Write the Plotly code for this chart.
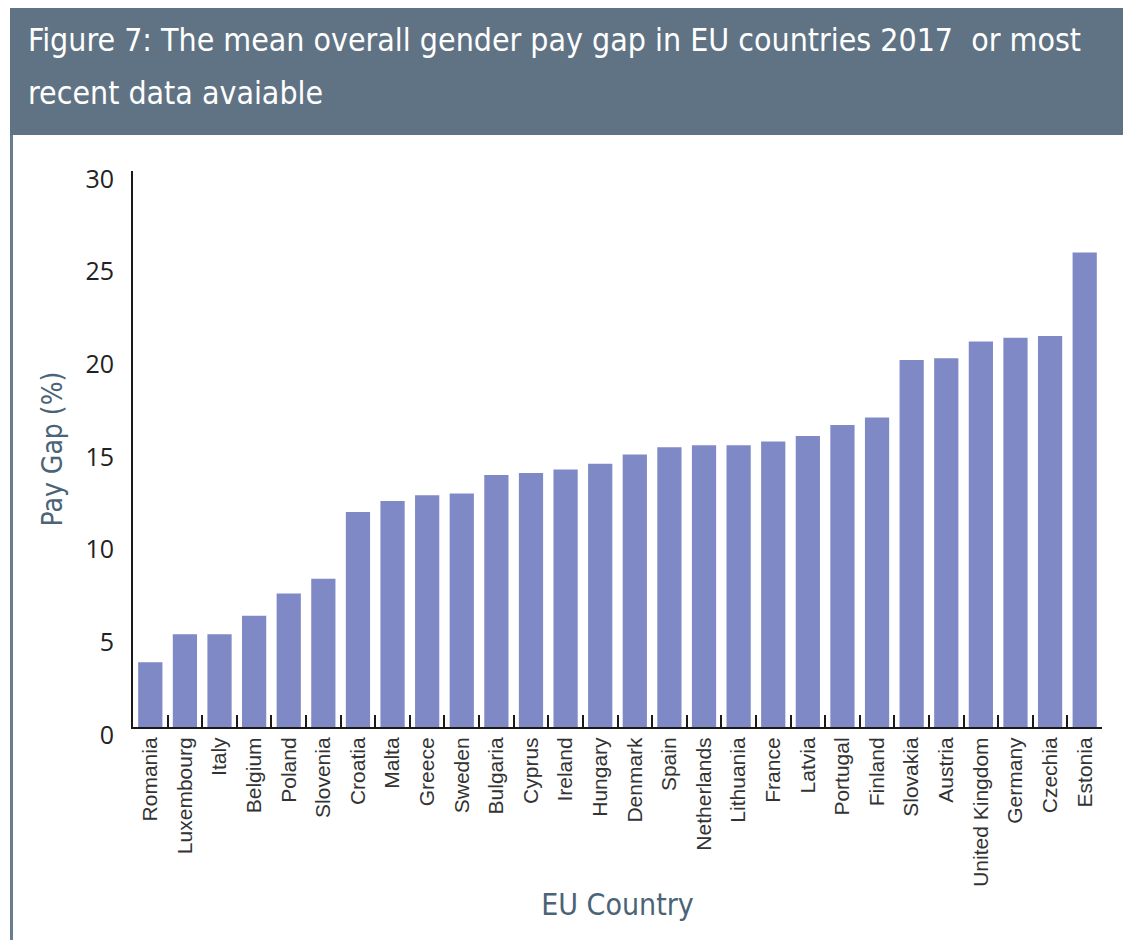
import plotly.graph_objects as go

countries = ["Romania", "Luxembourg", "Italy", "Belgium", "Poland", "Slovenia", "Croatia",
             "Malta", "Greece", "Sweden", "Bulgaria", "Cyprus", "Ireland", "Hungary",
             "Denmark", "Spain", "Netherlands", "Lithuania", "France", "Latvia", "Portugal",
             "Finland", "Slovakia", "Austria", "United Kingdom", "Germany", "Czechia", "Estonia"]
pay_gap = [3.5, 5.0, 5.0, 6.0, 7.2, 8.0, 11.6,
           12.2, 12.5, 12.6, 13.6, 13.7, 13.9, 14.2,
           14.7, 15.1, 15.2, 15.2, 15.4, 15.7, 16.3,
           16.7, 19.8, 19.9, 20.8, 21.0, 21.1, 25.6]
y_ticks = [0, 5, 10, 15, 20, 25, 30]

title_line1 = "Figure 7: The mean overall gender pay gap in EU countries 2017  or most"
title_line2 = "recent data avaiable"
slate = "#5f7384"
cond_font = "Liberation Sans Narrow, DejaVu Sans Condensed, sans-serif"

W, H = 1123, 940
L, R, T, B = 133, 21, 171, 213
PW, PH = W - L - R, H - T - B


def px(xpix):
    return (xpix - L) / PW


def py(ypix):
    return (H - B - ypix) / PH


fig = go.Figure(go.Bar(x=countries, y=pay_gap, marker=dict(color="#7f89c5", line=dict(width=0))))

fig.update_layout(
    width=W, height=H,
    margin=dict(l=L, r=R, t=T, b=B),
    paper_bgcolor="white", plot_bgcolor="white",
    bargap=0.3,
    showlegend=False,
    shapes=[
        dict(type="rect", xref="paper", yref="paper", x0=px(10), x1=px(W + 20),
             y0=py(135), y1=py(8), fillcolor=slate, line=dict(width=0), layer="below"),
        dict(type="rect", xref="paper", yref="paper", x0=px(10), x1=px(13),
             y0=py(H + 20), y1=py(135), fillcolor="#687d8f", line=dict(width=0)),
    ],
    annotations=[
        dict(text=title_line1, xref="paper", yref="paper", x=px(26), y=py(40),
             xanchor="left", yanchor="middle", showarrow=False, align="left",
             font=dict(family=cond_font, size=31.8, color="white")),
        dict(text=title_line2, xref="paper", yref="paper", x=px(26), y=py(92),
             xanchor="left", yanchor="middle", showarrow=False, align="left",
             font=dict(family=cond_font, size=31.8, color="white")),
    ],
)
fig.update_xaxes(
    showline=True, linecolor="#1a1a1a", linewidth=2,
    ticks="inside", tickson="boundaries", ticklen=12, tickwidth=2, tickcolor="#1a1a1a",
    tickangle=-90, tickfont=dict(family="Liberation Sans, Arial, sans-serif", size=21, color="#333333"),
    title=dict(text="EU Country", font=dict(family=cond_font, size=30, color="#4b6376"), standoff=8),
    showgrid=False,
)
fig.update_yaxes(
    range=[0, 30], tickvals=y_ticks, showline=True, linecolor="#1a1a1a", linewidth=2,
    ticks="", showgrid=False, zeroline=False,
    tickfont=dict(family="Open Sans, sans-serif", size=25, color="#222222"),
    ticklabelstandoff=12, ticklabelshift=8,
    title=dict(text="Pay Gap (%)", font=dict(family=cond_font, size=28, color="#4b6376"), standoff=15),
)

fig.write_html("out.html", config={"displayModeBar": False},
               post_script="document.body.style.margin='0';")
